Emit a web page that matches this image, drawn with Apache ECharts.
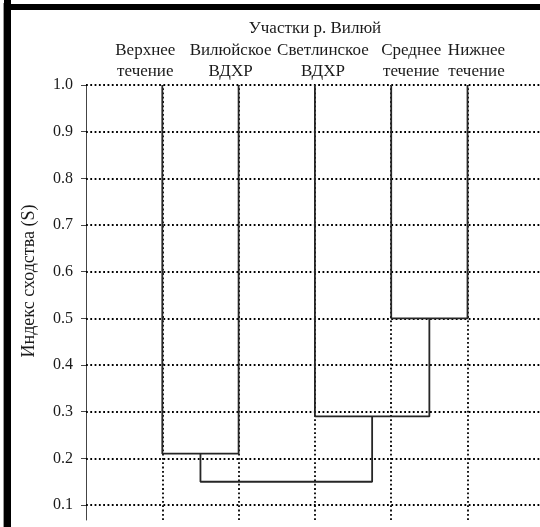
<!DOCTYPE html>
<html>
<head>
<meta charset="utf-8">
<script src="https://cdn.jsdelivr.net/npm/echarts@6/dist/echarts.min.js"></script>
<style>html,body{margin:0;padding:0;background:#fff}#c{width:540px;height:527px}</style>
</head>
<body>
<div id="c"></div>
<script>
// ---- data ----
var title = 'Участки р. Вилюй';
var yName = 'Индекс сходства (S)';
var leafLine1 = ['Верхнее', 'Вилюйское', 'Светлинское', 'Среднее', 'Нижнее'];
var leafLine2 = ['течение', 'ВДХР', 'ВДХР', 'течение', 'течение'];
var leafTop = 1.0;
// merges: [left node, right node, similarity]; nodes 0..4 = leaves, 5.. = merged clusters
var mergeLeft = [0, 3, 2, 5];
var mergeRight = [1, 4, 6, 7];
var mergeHeight = [0.21, 0.50, 0.29, 0.15];
var yTicks = [0.1, 0.2, 0.3, 0.4, 0.5, 0.6, 0.7, 0.8, 0.9, 1.0];

// ---- build ----
var fontSerif = '"Liberation Serif", "DejaVu Serif", serif';
var textColor = '#1a1a1a';
var nodeX = [1, 2, 3, 4, 5];
var nodeY = [leafTop, leafTop, leafTop, leafTop, leafTop];
var series = [];
for (var i = 0; i < mergeHeight.length; i++) {
  var a = mergeLeft[i], b = mergeRight[i], h = mergeHeight[i];
  series.push({
    type: 'line', symbol: 'none', silent: true, z: 5,
    lineStyle: {color: '#262626', width: 1.8},
    data: [[nodeX[a], nodeY[a]], [nodeX[a], h], [nodeX[b], h], [nodeX[b], nodeY[b]]]
  });
  nodeX.push((nodeX[a] + nodeX[b]) / 2);
  nodeY.push(h);
}
var yMin = 0.068, yMax = 1.0;
// dotted grid lines
var gridStyle = {color: '#000', width: 1.8, type: [1.8, 2.5]};
series.push({
  type: 'line', data: [], silent: true, z: 1,
  markLine: {
    silent: true, symbol: 'none', label: {show: false}, animation: false,
    lineStyle: gridStyle,
    data: yTicks.map(function (v) { return {yAxis: v}; })
      .concat(leafLine1.map(function (n, k) { return [{coord: [k + 1, yMin]}, {coord: [k + 1, yMax]}]; }))
  }
});

var chart = echarts.init(document.getElementById('c'));
chart.setOption({
  animation: false,
  backgroundColor: '#fff',
  grid: {left: 86, right: 0, top: 85, bottom: 7},
  xAxis: {
    type: 'value', position: 'top', min: 0, max: 5.95,
    axisLine: {show: false}, axisTick: {show: false}, splitLine: {show: false},
    axisLabel: {show: false}
  },
  yAxis: {
    type: 'value', min: yMin, max: yMax,
    axisLine: {show: true, lineStyle: {color: '#444', width: 1}},
    axisTick: {show: true, customValues: yTicks, length: 5, lineStyle: {color: '#444'}},
    splitLine: {show: false},
    axisLabel: {customValues: yTicks, margin: 13, fontFamily: fontSerif, fontSize: 16, color: textColor,
      formatter: function (v) { return v.toFixed(1); }}
  },
  series: series
});

// leaf labels placed over each leaf position through the axis scale
var labelShift = [-17, -8, 8, 20, 9];
var graphics = [
  {type: 'text', x: 315, y: 29,
    style: {text: title, fontFamily: fontSerif, fontSize: 17, fill: textColor, align: 'center', verticalAlign: 'middle'}},
  {type: 'text', x: 29, y: 281, rotation: Math.PI / 2,
    style: {text: yName, fontFamily: fontSerif, fontSize: 18, fill: textColor, align: 'center', verticalAlign: 'middle'}},
  {type: 'rect', shape: {x: 4, y: 0, width: 7, height: 527}, style: {fill: '#000'}},
  {type: 'rect', shape: {x: 4, y: 4, width: 536, height: 6}, style: {fill: '#000'}},
  {type: 'rect', shape: {x: 3, y: 3, width: 1, height: 524}, style: {fill: '#999'}}
];
leafLine1.forEach(function (n, k) {
  var px = chart.convertToPixel({xAxisIndex: 0}, k + 1) + labelShift[k];
  graphics.push({type: 'text', x: px, y: 51,
    style: {text: leafLine1[k], fontFamily: fontSerif, fontSize: 17, fill: textColor, align: 'center', verticalAlign: 'middle'}});
  graphics.push({type: 'text', x: px, y: 72,
    style: {text: leafLine2[k], fontFamily: fontSerif, fontSize: 17, fill: textColor, align: 'center', verticalAlign: 'middle'}});
});
chart.setOption({graphic: graphics});
</script>
</body>
</html>
